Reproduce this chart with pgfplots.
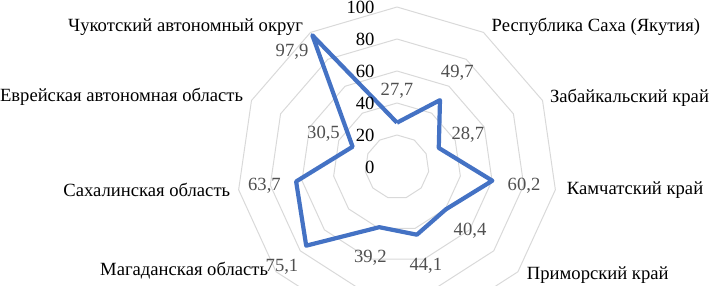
\documentclass[border=0pt]{standalone}
\usepackage{pgfplots}
\pgfplotsset{compat=1.18}
\usepackage{pgfplotstable}
\usepackage{fontspec}
\setmainfont{Liberation Serif}
\definecolor{serblue}{HTML}{4472C4}
\definecolor{ringgray}{HTML}{D9D9D9}
\definecolor{txtgray}{HTML}{505050}

% angle (deg, clockwise from top) and value
\pgfplotstableread{
ang r lab
90 27.7 27,7
57.2727 49.7 49,7
24.5455 28.7 28,7
-8.1818 60.2 60,2
-40.9091 40.4 40,4
-73.6364 44.1 44,1
-106.3636 39.2 39,2
-139.0909 75.1 75,1
-171.8182 63.7 63,7
155.4545 30.5 30,5
122.7273 97.9 97,9
90 27.7 27,7
}\datatable

% label positions (radius + offset)
\pgfplotstableread{
ang r lab
90 47.7 27,7
57.2727 69.7 49,7
24.5455 48.7 28,7
-8.1818 80.2 60,2
-40.9091 60.4 40,4
-73.6364 64.1 44,1
-106.3636 59.2 39,2
-139.0909 95.1 75,1
-171.8182 83.7 63,7
155.4545 50.5 30,5
132.4 97.3 97,9
}\labtable

\begin{document}
\begin{tikzpicture}
\useasboundingbox (0,0) rectangle (709bp,286bp);
\clip (0,0) rectangle (709bp,286bp);
\begin{axis}[
  scale only axis,
  width=709bp, height=286bp,
  xmin=-248.125, xmax=195,
  ymin=-74.375, ymax=104.375,
  hide axis,
  clip=false,
  font=\fontsize{18.7}{22}\selectfont,
  every node/.append style={text=txtgray},
]
% rings
\foreach \R in {20,40,60,80,100} {
  \edef\temp{\noexpand\addplot[ringgray, line width=1bp, data cs=polar] coordinates {
    (90,\R) (57.2727,\R) (24.5455,\R) (-8.1818,\R) (-40.9091,\R) (-73.6364,\R)
    (-106.3636,\R) (-139.0909,\R) (-171.8182,\R) (155.4545,\R) (122.7273,\R) (90,\R)};}
  \temp
}
% data
\addplot[serblue, line width=4.2bp, line join=round, data cs=polar] table[x=ang, y=r] {\datatable};
% value labels
\addplot[draw=none, data cs=polar, nodes near coords, point meta=explicit symbolic,
  every node near coord/.append style={anchor=center, text=txtgray, font=\fontsize{18.7}{22}\selectfont}]
  table[x=ang, y=r, meta=lab] {\labtable};
% tick labels
\node[anchor=east] at (axis cs:-11.9,0) {0};
\node[anchor=east] at (axis cs:-11.9,20) {20};
\node[anchor=east] at (axis cs:-11.9,40) {40};
\node[anchor=east] at (axis cs:-11.9,60) {60};
\node[anchor=east] at (axis cs:-11.9,80) {80};
\node[anchor=east] at (axis cs:-11.9,100) {100};
% category labels
\node[anchor=west] at (axis cs:57,87.5) {Республика Саха (Якутия)};
\node[anchor=west] at (axis cs:93.5,43.1) {Забайкальский край};
\node[anchor=west] at (axis cs:104,-14.4) {Камчатский край};
\node[anchor=west] at (axis cs:79,-67.5) {Приморский край};
\node[anchor=east] at (axis cs:-78.4,-65) {Магаданская область};
\node[anchor=east] at (axis cs:-102.1,-14.4) {Сахалинская область};
\node[anchor=east] at (axis cs:-94,43.75) {Еврейская автономная область};
\node[anchor=east] at (axis cs:-56.5,87.5) {Чукотский автономный округ};
\end{axis}
\end{tikzpicture}
\end{document}
